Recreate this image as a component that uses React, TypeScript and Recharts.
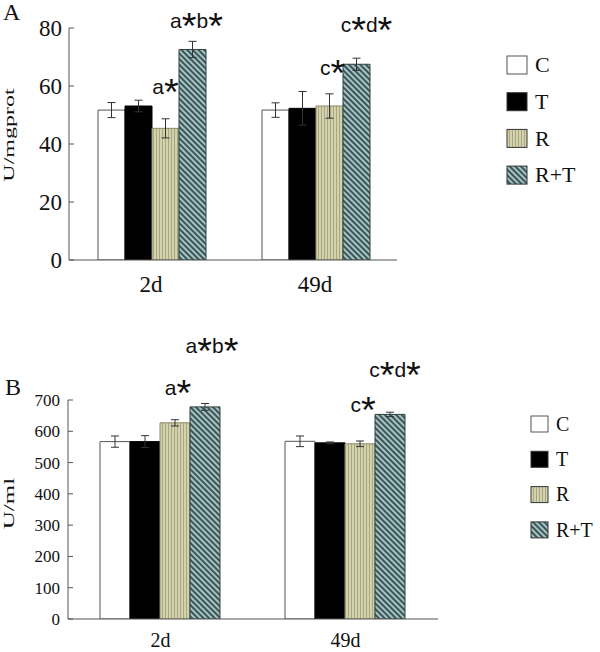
import React from 'react';
import { BarChart, Bar, XAxis, YAxis, ErrorBar, LabelList, Legend } from 'recharts';

// ---------- data ----------
const categories = ['2d', '49d'];
const seriesNames = ['C', 'T', 'R', 'R+T'];

// Panel A (U/mgprot)
const aC = [51.7, 51.7];
const aCErr = [2.6, 2.5];
const aT = [53.1, 52.3];
const aTErr = [2.0, 5.8];
const aR = [45.4, 53.1];
const aRErr = [3.3, 4.2];
const aRT = [72.6, 67.5];
const aRTErr = [2.8, 2.1];
const aTicks = [0, 20, 40, 60, 80];

// Panel B (U/ml)
const bC = [567, 568];
const bCErr = [18, 17];
const bT = [567, 563];
const bTErr = [19, 3];
const bR = [627, 560];
const bRErr = [10, 9];
const bRT = [678, 654];
const bRTErr = [11, 7];
const bTicks = [0, 100, 200, 300, 400, 500, 600, 700];

// significance annotations
const sigR = ['a*', 'c*'];
const sigRT = ['a*b*', 'c*d*'];

const build = (c: number[], ce: number[], t: number[], te: number[], r: number[], re: number[], rt: number[], rte: number[]) =>
  categories.map((cat, i) => ({
    cat,
    C: c[i], CErr: ce[i],
    T: t[i], TErr: te[i],
    R: r[i], RErr: re[i],
    RT: rt[i], RTErr: rte[i],
    sigR: sigR[i], sigRT: sigRT[i],
  }));

const dataA = build(aC, aCErr, aT, aTErr, aR, aRErr, aRT, aRTErr);
const dataB = build(bC, bCErr, bT, bTErr, bR, bRErr, bRT, bRTErr);

// ---------- styles ----------
const SERIF = 'Liberation Serif, Times New Roman, serif';
const SANS = 'Liberation Sans, Arial, sans-serif';
const AXIS = '#555';

const seriesStyle: Record<string, { fill: string; stroke: string }> = {
  C: { fill: '#ffffff', stroke: '#555' },
  T: { fill: '#000000', stroke: '#000' },
  R: { fill: 'url(#patR)', stroke: '#8a8866' },
  RT: { fill: 'url(#patRT)', stroke: '#2e3e3e' },
};
const keyOf = (name: string) => (name === 'R+T' ? 'RT' : name);

const SigText = ({ x, y, value, fs }: any) => {
  const parts: React.ReactNode[] = [];
  let shifted = false;
  String(value).split('').forEach((ch, k) => {
    if (ch === '*') {
      parts.push(<tspan key={k} fontSize={fs * 1.8} dy={shifted ? 0 : 11}>*</tspan>);
      shifted = true;
    } else {
      parts.push(<tspan key={k} fontSize={fs} dy={shifted ? -11 : 0}>{ch}</tspan>);
      shifted = false;
    }
  });
  return (
    <text x={x} y={y} textAnchor="middle" fontFamily={SANS} fill="#111">
      {parts}
    </text>
  );
};

const makeSig = (offs: number[][], fs: number) => (props: any) => {
  const { x, y, width, value, index } = props;
  const [dx, dy] = offs[index] || [0, 20];
  return <SigText x={Number(x) + Number(width) / 2 + dx} y={Number(y) - dy} value={value} fs={fs} />;
};

const makeLegend = (cfg: { sw: number; sh: number; sx: number; tx: number; y0: number; step: number; fs: number }) => () => (
  <svg width={100} height={170}>
    {seriesNames.map((n, i) => {
      const st = seriesStyle[keyOf(n)];
      const cy = cfg.y0 + i * cfg.step;
      return (
        <g key={n}>
          <rect x={cfg.sx} y={cy - cfg.sh / 2} width={cfg.sw} height={cfg.sh} fill={st.fill} stroke={st.stroke === '#555' ? '#555' : '#333'} strokeWidth={1} />
          <text x={cfg.tx} y={cy + cfg.fs * 0.33} fontFamily={SERIF} fontSize={cfg.fs} fill="#111">{n}</text>
        </g>
      );
    })}
  </svg>
);

const YLabel = (text: string, fs: number, dy: number) => (props: any) => {
  const vb = props.viewBox || {};
  const cy = vb.y + vb.height / 2 + dy;
  return (
    <text transform={`translate(14, ${cy}) rotate(-90) scale(1, 0.62)`} textAnchor="middle" fontFamily={SERIF} fontSize={fs} fill="#111">
      {text}
    </text>
  );
};

type PanelProps = {
  data: any[];
  ticks: number[];
  height: number;
  margin: any;
  yWidth: number;
  gap: number;
  tickFs: number;
  xFs: number;
  xTickMargin: number;
  yLabel: string;
  yLabelFs: number;
  yLabelDy: number;
  tickMargin: number;
  sigOffR: number[][];
  sigOffRT: number[][];
  legend: any;
  legendPos: any;
};

const Panel = (p: PanelProps) => (
  <BarChart width={600} height={p.height} data={p.data} margin={p.margin} barCategoryGap={p.gap} barGap={0}>
    <XAxis
      dataKey="cat"
      axisLine={{ stroke: AXIS }}
      tickLine={false}
      tickMargin={p.xTickMargin}
      height={30}
      tick={{ fontSize: p.xFs, fill: '#111', fontFamily: SERIF }}
    />
    <YAxis
      domain={[p.ticks[0], p.ticks[p.ticks.length - 1]]}
      ticks={p.ticks}
      width={p.yWidth}
      axisLine={{ stroke: AXIS }}
      tickLine={{ stroke: AXIS }}
      tickSize={-5}
      tickMargin={p.tickMargin}
      interval={0}
      allowDataOverflow
      tick={{ fontSize: p.tickFs, fill: '#111', fontFamily: SERIF }}
      label={YLabel(p.yLabel, p.yLabelFs, p.yLabelDy)}
    />
    <Legend layout="horizontal" verticalAlign="middle" align="right" content={p.legend} wrapperStyle={p.legendPos} />
    <Bar dataKey="C" name="C" fill={seriesStyle.C.fill} stroke={seriesStyle.C.stroke} isAnimationActive={false}>
      <ErrorBar dataKey="CErr" width={4} stroke="#333" strokeWidth={1} />
    </Bar>
    <Bar dataKey="T" name="T" fill={seriesStyle.T.fill} stroke={seriesStyle.T.stroke} isAnimationActive={false}>
      <ErrorBar dataKey="TErr" width={4} stroke="#333" strokeWidth={1} />
    </Bar>
    <Bar dataKey="R" name="R" fill={seriesStyle.R.fill} stroke={seriesStyle.R.stroke} isAnimationActive={false}>
      <ErrorBar dataKey="RErr" width={4} stroke="#333" strokeWidth={1} />
      <LabelList dataKey="sigR" content={makeSig(p.sigOffR, 21)} />
    </Bar>
    <Bar dataKey="RT" name="R+T" fill={seriesStyle.RT.fill} stroke={seriesStyle.RT.stroke} isAnimationActive={false}>
      <ErrorBar dataKey="RTErr" width={4} stroke="#333" strokeWidth={1} />
      <LabelList dataKey="sigRT" content={makeSig(p.sigOffRT, 21)} />
    </Bar>
  </BarChart>
);

export default function App() {
  return (
    <div style={{ position: 'absolute', left: 0, top: 0, width: 600, height: 652, background: '#fff', fontFamily: SERIF }}>
      <svg width={0} height={0} style={{ position: 'absolute' }}>
        <defs>
          <pattern id="patR" width="3" height="3" patternUnits="userSpaceOnUse">
            <rect width="3" height="3" fill="#d4d2ac" />
            <rect width="1" height="3" fill="#a9a782" />
          </pattern>
          <pattern id="patRT" width="4" height="4" patternUnits="userSpaceOnUse" patternTransform="rotate(-45)">
            <rect width="4" height="4" fill="#a6c2c2" />
            <rect width="2" height="4" fill="#3a5656" />
          </pattern>
        </defs>
      </svg>

      <div style={{ position: 'absolute', left: 0, top: 0 }}>
        <Panel
          data={dataA}
          ticks={aTicks}
          height={300}
          margin={{ top: 28, right: 103, left: 0, bottom: 10 }}
          yWidth={69}
          gap={29}
          tickFs={23}
          xFs={23}
          xTickMargin={10}
          yLabel="U/mgprot"
          yLabelFs={24}
          yLabelDy={-9}
          tickMargin={12}
          sigOffR={[[0, 34], [3, 31]]}
          sigOffRT={[[4, 21], [10, 32]]}
          legend={makeLegend({ sw: 20, sh: 18, sx: 7, tx: 35, y0: 20, step: 36.7, fs: 22 })}
          legendPos={{ left: 500, top: 45, width: 100, height: 170 }}
        />
      </div>

      <div style={{ position: 'absolute', left: 0, top: 320 }}>
        <Panel
          data={dataB}
          ticks={bTicks}
          height={332}
          margin={{ top: 80, right: 62, left: 0, bottom: 3 }}
          yWidth={68}
          gap={32}
          tickFs={17}
          xFs={20}
          xTickMargin={8}
          yLabel="U/ml"
          yLabelFs={25}
          yLabelDy={-6}
          tickMargin={13}
          sigOffR={[[3, 28], [3, 32]]}
          sigOffRT={[[7, 54], [5, 37]]}
          legend={makeLegend({ sw: 17, sh: 16, sx: 31, tx: 56, y0: 24, step: 35.3, fs: 20 })}
          legendPos={{ left: 500, top: 80, width: 100, height: 170 }}
        />
      </div>

      <svg width={600} height={652} style={{ position: 'absolute', left: 0, top: 0, pointerEvents: 'none' }}>
        <text x={3} y={20} fontFamily={SERIF} fontSize={24} fill="#111">A</text>
        <text x={5} y={395} fontFamily={SERIF} fontSize={24} fill="#111">B</text>
      </svg>
    </div>
  );
}
